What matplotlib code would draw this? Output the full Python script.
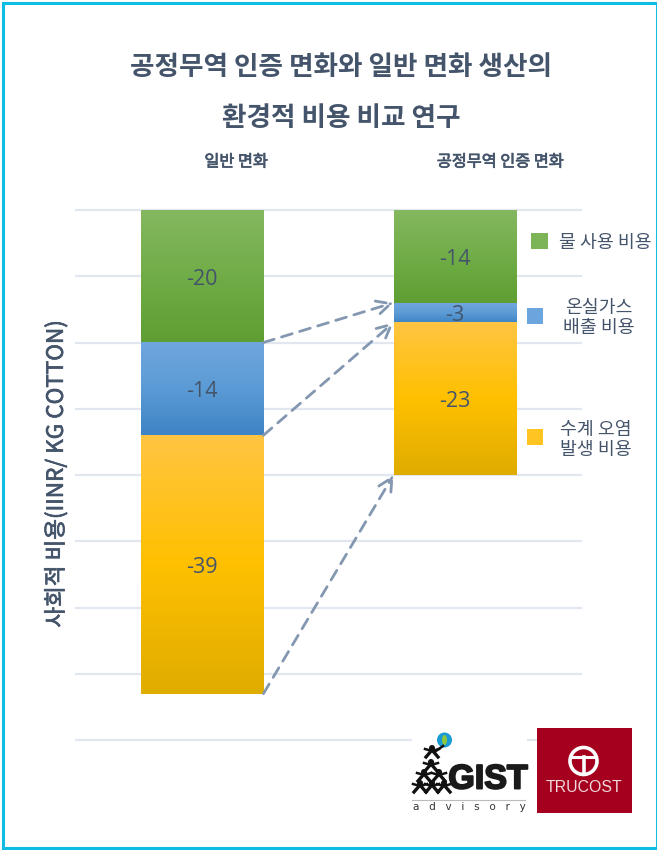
import numpy as np
import matplotlib
matplotlib.use("Agg")
import matplotlib.pyplot as plt
import matplotlib.patheffects as pe
from matplotlib.colors import LinearSegmentedColormap
from matplotlib.patches import Rectangle, Circle, Polygon, Ellipse

plt.rcParams['font.family'] = ['Noto Sans CJK KR', 'DejaVu Sans']

# ---- data ----
categories = ['일반 면화', '공정무역 인증 면화']
water = [-20, -14]
ghg = [-14, -3]
pollution = [-39, -23]
y_ticks = [0, -10, -20, -30, -40, -50, -60, -70, -80]
title_lines = ['공정무역 인증 면화와 일반 면화 생산의', '환경적 비용 비교 연구']
ylabel = '사회적 비용(IINR/ KG COTTON)'

TXT = '#44546A'
W, H = 657, 850
fig = plt.figure(figsize=(W / 100, H / 100), dpi=100, facecolor='white')

def pxaxes(l, t, r, b):
    return [l / W, 1 - b / H, (r - l) / W, (b - t) / H]

ax = fig.add_axes(pxaxes(76, 210, 581, 740))
ax.set_xlim(-0.5, 1.5)
ax.set_ylim(-80, 0)
ax.set_yticks(y_ticks)
ax.set_xticks([])
ax.tick_params(left=False, labelleft=False)
for s in ax.spines.values():
    s.set_visible(False)
ax.set_axisbelow(True)
ax.grid(axis='y', color='#E2E6EE', lw=1.6)
for g in ax.get_ygridlines():
    g.set_clip_on(False)
ax.patch.set_alpha(0)

series = [
    (water, ['#85B860', '#70AD47', '#5E9E32']),
    (ghg, ['#70A6DF', '#5B9BD5', '#3E83C5']),
    (pollution, ['#FFC542', '#FFC000', '#DFAC00']),
]
bar_w = 0.485
x = np.arange(len(categories))
base = np.zeros(len(categories))
tops = []
for vals, cols in series:
    vals = np.array(vals, dtype=float)
    bars = ax.bar(x, vals, bar_w, bottom=base, facecolor='none', edgecolor='none', zorder=3)
    cmap = LinearSegmentedColormap.from_list('g', cols)
    for xi, b0, v, bar in zip(x, base, vals, bars):
        ax.imshow(np.linspace(0, 1, 256).reshape(-1, 1), cmap=cmap, aspect='auto',
                  extent=[xi - bar_w / 2, xi + bar_w / 2, b0 + v, b0], zorder=2,
                  interpolation='bilinear')
        ax.annotate(f'{int(v)}', (xi, b0 + v / 2), xytext=(0, -2), textcoords='offset points',
                    ha='center', va='center', color=TXT,
                    fontsize=15.5, family=['Open Sans'], zorder=5)
    base = base + vals
    tops.append(base.copy())
ax.set_xlim(-0.5, 1.5)
ax.set_ylim(-80, 0)

# dashed connectors between matching segment ends
for b in tops:
    ax.annotate('', xy=(x[1] - bar_w / 2, b[1]), xytext=(x[0] + bar_w / 2, b[0]),
                annotation_clip=False, zorder=6,
                arrowprops=dict(arrowstyle='->,head_length=1.0,head_width=0.5', color='#8497B0',
                                lw=2.0, ls=(0, (4.0, 2.8)), shrinkA=0, shrinkB=0))

# overlay in pixel coordinates for decoration
ov = fig.add_axes([0, 0, 1, 1], zorder=10)
ov.set_xlim(0, W)
ov.set_ylim(H, 0)
ov.axis('off')
ov.patch.set_alpha(0)

# frame
ov.add_patch(Rectangle((3, 3), W - 3, H - 5, fill=False, ec='#0FBDE3', lw=2.2, clip_on=False))

# titles
thick = [pe.withStroke(linewidth=0.5, foreground=TXT)]
ov.text(341, 67, title_lines[0], ha='center', va='center', fontsize=19.2, fontweight='bold', color=TXT)
ov.text(341, 118, title_lines[1], ha='center', va='center', fontsize=19.2, fontweight='bold', color=TXT)
ov.text(236, 162, categories[0], ha='center', va='center', fontsize=11.7, color=TXT, path_effects=thick)
ov.text(500, 162, categories[1], ha='center', va='center', fontsize=11.7, color=TXT, path_effects=thick)
ov.text(56, 474, ylabel, ha='center', va='center', rotation=90, fontsize=16.2, color=TXT, path_effects=thick)

# legend
ov.add_patch(Rectangle((531, 233), 17, 16, fc='#7CB558', ec='none'))
ov.add_patch(Rectangle((527, 308), 16, 16, fc='#6CA5DE', ec='none'))
ov.add_patch(Rectangle((527, 429), 16, 16, fc='#FFC322', ec='none'))
ov.text(605, 243, '물 사용 비용', ha='center', va='center', fontsize=13.2, color=TXT)
ov.text(599, 318, '온실가스\n배출 비용', ha='center', va='center', fontsize=13.2, color=TXT, linespacing=1.2)
ov.text(596, 440, '수계 오염\n발생 비용', ha='center', va='center', fontsize=13.2, color=TXT, linespacing=1.2)

# GIST logo
ov.add_patch(Rectangle((412, 730), 115, 84, fc='white', ec='none', zorder=1))
ov.add_patch(Circle((444.5, 740), 7.5, fc='#1C9AD6', ec='none', zorder=2))
ov.add_patch(Ellipse((444.5, 740), 5, 10, fc='#8DC63F', ec='none', zorder=3))
for cx, cy, r in [(432, 748, 3), (431, 762, 3), (424, 772, 3), (439, 772, 3),
                  (420, 783, 3), (432, 783, 3), (444, 783, 3)]:
    ov.add_patch(Circle((cx, cy), r, fc='#111111', ec='none', zorder=4))
    ov.plot([cx - 6, cx, cx + 6], [cy + 9, cy + 2, cy + 9], color='#111111', lw=2.4, zorder=4)
    ov.plot([cx - 7, cx, cx + 7], [cy + 1, cy + 3, cy + 1], color='#111111', lw=1.8, zorder=4)
ov.plot([436, 443], [751, 746], color='#111111', lw=1.8, zorder=4)
ov.text(488, 780, 'GIST', ha='center', va='center', fontsize=24.5, fontweight='bold',
        family=['Liberation Sans'], color='#1A1A1A', zorder=4,
        path_effects=[pe.withStroke(linewidth=1.4, foreground='#1A1A1A')])
ov.plot([412, 525], [800, 800], color='#BBBBBB', lw=0.8, zorder=4)
ov.text(469, 807, 'a   d   v   i   s   o   r   y', ha='center', va='center', fontsize=7.5,
        family=['DejaVu Sans'], color='#333333', zorder=4)

# Trucost logo
ov.add_patch(Rectangle((537, 728), 95, 85, fc='#A5001E', ec='none', zorder=2))
ov.add_patch(Circle((583.5, 761), 13.5, fc='none', ec='white', lw=2.6, zorder=3))
ov.plot([571, 596], [757, 757], color='white', lw=2.2, zorder=3)
ov.plot([583.5, 583.5], [757, 773], color='white', lw=2.6, zorder=3)
ov.text(584, 788, 'TRUCOST', ha='center', va='center', fontsize=11.4, color='#F0D8DC',
        family=['Liberation Sans'], zorder=3)

fig.savefig('out.png', dpi=100, facecolor='white')
